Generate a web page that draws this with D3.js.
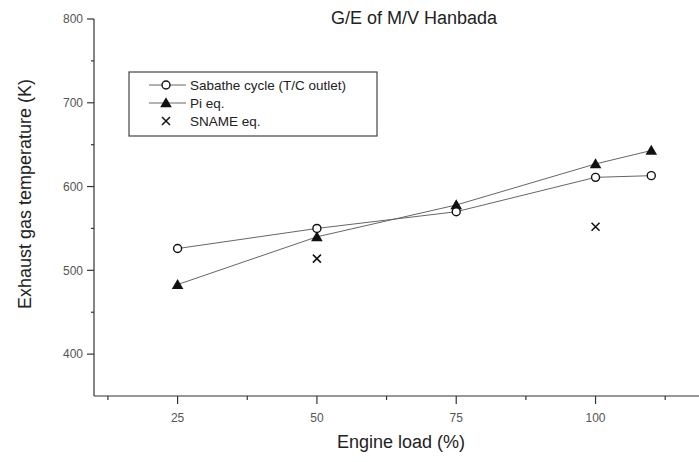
<!DOCTYPE html>
<html>
<head>
<meta charset="utf-8">
<script src="https://cdn.jsdelivr.net/npm/d3@7"></script>
<style>
  html, body { margin: 0; padding: 0; background: #fff; }
  svg { display: block; font-family: "Liberation Sans", Arial, sans-serif; }
</style>
</head>
<body>
<div id="chart"></div>
<script>
(function () {
  "use strict";

  // engine load (%) per series
  var loadSabathe = [25, 50, 75, 100, 110];
  var tempSabathe = [526, 550, 570, 611, 613];
  var loadPi = [25, 50, 75, 100, 110];
  var tempPi = [483, 540, 578, 627, 643];
  var loadSname = [50, 100];
  var tempSname = [514, 552];

  var xMajor = [25, 50, 75, 100];
  var xMinor = [12.5, 37.5, 62.5, 87.5, 112.5];
  var yMajor = [400, 500, 600, 700, 800];
  var yMinor = [450, 550, 650, 750];

  var W = 699, H = 462;
  var ink = "#222";

  var x = d3.scaleLinear().domain([10, 120]).range([94, 707]);
  var y = d3.scaleLinear().domain([350, 800]).range([396, 19]);

  var svg = d3.select("#chart").append("svg").attr("width", W).attr("height", H);

  function zip(xs, ys) { return xs.map(function (v, i) { return [v, ys[i]]; }); }

  // ---- axes ----
  var axG = svg.append("g").attr("stroke", "#333").attr("stroke-width", 1.2);
  axG.append("line").attr("x1", x(10)).attr("x2", x(120)).attr("y1", y(350)).attr("y2", y(350));
  axG.append("line").attr("x1", x(10)).attr("x2", x(10)).attr("y1", y(350)).attr("y2", y(800));

  axG.selectAll(".xmaj").data(xMajor).join("line")
    .attr("x1", function (d) { return x(d); }).attr("x2", function (d) { return x(d); })
    .attr("y1", y(350)).attr("y2", y(350) + 8);
  axG.selectAll(".xmin").data(xMinor).join("line")
    .attr("x1", function (d) { return x(d); }).attr("x2", function (d) { return x(d); })
    .attr("y1", y(350)).attr("y2", y(350) + 4);
  axG.selectAll(".ymaj").data(yMajor).join("line")
    .attr("x1", x(10) - 7).attr("x2", x(10))
    .attr("y1", function (d) { return y(d); }).attr("y2", function (d) { return y(d); });
  axG.selectAll(".ymin").data(yMinor).join("line")
    .attr("x1", x(10) - 3).attr("x2", x(10))
    .attr("y1", function (d) { return y(d); }).attr("y2", function (d) { return y(d); });

  svg.append("g").selectAll("text").data(xMajor).join("text")
    .attr("x", function (d) { return x(d); }).attr("y", y(350) + 26)
    .attr("text-anchor", "middle").attr("font-size", 12).attr("fill", "#555")
    .text(function (d) { return d; });
  svg.append("g").selectAll("text").data(yMajor).join("text")
    .attr("x", x(10) - 11).attr("y", function (d) { return y(d); }).attr("dy", "0.35em")
    .attr("text-anchor", "end").attr("font-size", 12).attr("fill", "#555")
    .text(function (d) { return d; });

  svg.append("text").attr("x", 401).attr("y", 448).attr("text-anchor", "middle")
    .attr("font-size", 18).attr("fill", ink).text("Engine load (%)");
  svg.append("text").attr("transform", "translate(31,194) rotate(-90)").attr("text-anchor", "middle")
    .attr("font-size", 18).attr("fill", ink).text("Exhaust gas temperature (K)");
  svg.append("text").attr("x", 414).attr("y", 24).attr("text-anchor", "middle")
    .attr("font-size", 18).attr("fill", ink).text("G/E of M/V Hanbada");

  // ---- series ----
  var line = d3.line().x(function (d) { return x(d[0]); }).y(function (d) { return y(d[1]); });
  var tri = d3.symbol().type(d3.symbolTriangle).size(58);

  function circleMark(g, cx, cy) {
    g.append("circle").attr("cx", cx).attr("cy", cy).attr("r", 4)
      .attr("fill", "#fff").attr("stroke", "#111").attr("stroke-width", 1.4);
  }
  function triMark(g, cx, cy) {
    g.append("path").attr("d", tri).attr("transform", "translate(" + cx + "," + (cy + 1) + ")").attr("fill", "#111");
  }
  function crossMark(g, cx, cy) {
    var s = 4;
    g.append("path").attr("d", "M" + (cx - s) + "," + (cy - s) + "L" + (cx + s) + "," + (cy + s) +
      "M" + (cx - s) + "," + (cy + s) + "L" + (cx + s) + "," + (cy - s))
      .attr("stroke", "#111").attr("stroke-width", 1.5).attr("fill", "none");
  }

  var sab = zip(loadSabathe, tempSabathe), pi = zip(loadPi, tempPi), sn = zip(loadSname, tempSname);
  var plot = svg.append("g");
  plot.append("path").attr("d", line(sab)).attr("fill", "none").attr("stroke", "#666").attr("stroke-width", 1);
  plot.append("path").attr("d", line(pi)).attr("fill", "none").attr("stroke", "#666").attr("stroke-width", 1);
  pi.forEach(function (d) { triMark(plot, x(d[0]), y(d[1])); });
  sab.forEach(function (d) { circleMark(plot, x(d[0]), y(d[1])); });
  sn.forEach(function (d) { crossMark(plot, x(d[0]), y(d[1])); });

  // ---- legend ----
  var lg = svg.append("g");
  lg.append("rect").attr("x", 129).attr("y", 72).attr("width", 248).attr("height", 64)
    .attr("fill", "#fff").attr("stroke", "#444").attr("stroke-width", 1.2);
  var rows = [
    { label: "Sabathe cycle (T/C outlet)", mark: circleMark, ln: true },
    { label: "Pi eq.", mark: triMark, ln: true },
    { label: "SNAME eq.", mark: crossMark, ln: false }
  ];
  rows.forEach(function (r, i) {
    var cy = 85 + i * 18;
    if (r.ln) lg.append("line").attr("x1", 149).attr("x2", 186).attr("y1", cy).attr("y2", cy)
      .attr("stroke", "#666").attr("stroke-width", 1);
    r.mark(lg, 166, cy);
    lg.append("text").attr("x", 190).attr("y", cy).attr("dy", "0.35em")
      .attr("font-size", 13.5).attr("fill", ink).text(r.label);
  });
})();
</script>
</body>
</html>
